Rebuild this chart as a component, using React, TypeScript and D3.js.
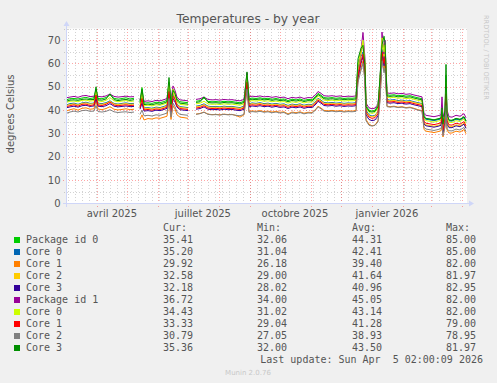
import React from 'react';
import * as d3 from 'd3';

const W = 497;
const H = 383;
const START = Date.UTC(2025, 2, 1, 2, 0, 0);
const END = Date.UTC(2026, 3, 5, 2, 0, 0);

// days since START for each sample (null values create gaps)
const dayOffsets = [
  0, 4, 8, 12, 16, 20, 24, 28, 30, 32, 36, 40, 44, 48, 52, 56, 60, 64, 68, 70,
  74, 76, 78, 82, 86, 90, 94, 98, 101, 103, 105, 107, 109, 111, 114, 118, 122, 124,
  130, 134, 138, 142, 146, 150, 154, 158, 162, 166, 170, 174, 178,
  181,
  183, 186, 190, 194, 198, 202, 206, 210, 214, 218, 222, 226, 230, 234, 238, 242, 246, 250, 252, 255, 258, 262, 266, 270, 274, 278, 282, 286, 290,
  292, 295, 297, 299, 300, 303, 306, 309, 312, 314, 316, 318, 319,
  321, 324, 328, 332, 336, 340, 344, 348, 352, 356,
  358, 360, 364, 368, 372, 375, 376, 377, 379, 380, 381, 383, 386, 390, 394, 398, 400,
];

const pkg0 = [
  44.4, 44.9, 45.0, 44.8, 45.2, 45.5, 45.0, 45.3, 49.0, 45.0, 44.9, 45.4, 46.6, 45.1, 44.7, 45.0, 45.3, 44.8, 45.1, null,
  43.8, 49.7, 43.0, 43.2, 42.9, 43.4, 43.2, 43.7, 44.2, 52.0, 43.0, 49.0, 47.5, 44.7, 43.6, 43.4, 43.2, null,
  43.8, 44.1, 45.2, 43.8, 43.6, 43.7, 43.5, 43.8, 43.6, 43.7, 43.4, 43.2, 43.8,
  55.5,
  44.8, 45.2, 45.0, 45.3, 44.9, 45.1, 44.7, 45.0, 44.6, 44.8, 44.1, 44.7, 44.4, 44.8, 44.2, 44.6, 44.5, 46.0, 47.2, 46.4, 45.4, 45.2, 45.4, 45.1, 45.3, 45.0, 45.2, 45.1, 45.3,
  60, 65, 68, 60, 42, 40, 39.6, 40, 42, 53, 69, 66, 68,
  46.6, 46.4, 46.6, 46.2, 46.4, 46.0, 46.2, 45.7, 45.3, 44.9,
  37.2, 36.5, 36.2, 35.9, 36.3, 36.7, 40.0, 34.0, 39.0, 55.0, 38.0, 35.5, 35.7, 36.5, 36.1, 37.2, 35.4,
];
const core0a = [
  42.2, 42.8, 43.0, 42.5, 43.1, 43.4, 42.9, 43.0, 46.5, 43.0, 42.8, 43.2, 44.0, 42.9, 42.6, 42.9, 43.1, 42.8, 42.9, null,
  41.7, 45.0, 40.9, 41.1, 40.8, 41.3, 41.1, 41.6, 42.1, 49.0, 40.5, 47.0, 45.0, 42.6, 41.5, 41.3, 41.1, null,
  41.7, 42.0, 42.7, 41.7, 41.5, 41.6, 41.4, 41.7, 41.5, 41.6, 41.3, 41.1, 41.7,
  53,
  42.7, 43.1, 42.9, 43.2, 42.8, 43.0, 42.6, 42.9, 42.5, 42.7, 42.0, 42.6, 42.3, 42.7, 42.1, 42.5, 42.4, 43.9, 45.1, 44.3, 43.3, 43.1, 43.3, 43.0, 43.2, 42.9, 43.1, 43.0, 43.2,
  56, 63, 65, 57, 40, 38, 37.5, 37.8, 39.5, 49, 66, 61, 64,
  44.5, 44.3, 44.5, 44.1, 44.3, 43.9, 44.1, 43.6, 43.2, 42.8,
  36.8, 36.1, 35.8, 35.5, 35.9, 36.3, 39.0, 33.5, 38.0, 50.0, 37.0, 35.4, 35.3, 36.1, 35.7, 36.8, 35.2,
];
const core1a = [
  39.6, 40.2, 40.6, 40.0, 40.8, 41.0, 40.4, 40.6, 44.0, 40.5, 40.2, 40.7, 41.5, 40.4, 40.1, 40.3, 40.6, 40.2, 40.4, null,
  36.0, 38.0, 35.8, 36.4, 36.2, 36.7, 36.5, 37.0, 37.4, 44.0, 36.0, 42.0, 40.5, 38.0, 37.0, 36.8, 36.5, null,
  38.3, 38.6, 39.2, 38.3, 38.1, 38.2, 38.0, 38.3, 38.1, 38.2, 37.7, 37.0, 38.0,
  49,
  39.3, 39.7, 39.5, 39.8, 39.4, 39.6, 39.2, 39.5, 39.1, 39.3, 38.4, 39.2, 38.9, 39.3, 38.7, 39.1, 39.0, 40.5, 41.7, 40.9, 39.9, 39.7, 39.9, 39.6, 39.8, 39.5, 39.7, 39.6, 39.8,
  53, 58, 61, 53, 36, 34, 33.3, 33.6, 35.5, 45, 62, 57, 60,
  41.7, 41.5, 41.7, 41.3, 41.5, 41.1, 41.3, 40.8, 40.2, 39.8,
  31.7, 31.0, 30.7, 30.4, 30.8, 31.2, 33.0, 28.5, 33.0, 42.0, 31.5, 30.2, 30.2, 31.0, 30.6, 31.7, 29.9,
];
const core2a = [
  42.0, 42.4, 42.7, 42.2, 42.9, 43.1, 42.6, 42.8, 46.0, 42.7, 42.5, 42.9, 43.8, 42.7, 42.4, 42.6, 42.8, 42.5, 42.6, null,
  41.4, 46.0, 40.6, 40.8, 40.5, 41.0, 40.8, 41.3, 41.8, 50.0, 40.0, 47.5, 45.5, 42.3, 41.2, 41.0, 40.8, null,
  41.4, 41.7, 42.4, 41.4, 41.2, 41.3, 41.1, 41.4, 41.2, 41.3, 41.0, 40.8, 41.4,
  54,
  42.4, 42.8, 42.6, 42.9, 42.5, 42.7, 42.3, 42.6, 42.2, 42.4, 41.7, 42.3, 42.0, 42.4, 41.8, 42.2, 42.1, 43.6, 44.8, 44.0, 43.0, 42.8, 43.0, 42.7, 42.9, 42.6, 42.8, 42.7, 42.9,
  57, 64, 69, 58, 39.5, 37.5, 37.2, 37.5, 39.5, 50, 70, 63, 67,
  44.2, 44.0, 44.2, 43.8, 44.0, 43.6, 43.8, 43.3, 42.9, 42.5,
  34.4, 33.7, 33.4, 33.1, 33.5, 33.9, 37.0, 31.0, 36.0, 48.0, 35.0, 33.0, 32.9, 33.7, 33.3, 34.4, 32.6,
];
const core3a = [
  41.0, 41.4, 41.7, 41.3, 41.9, 42.1, 41.6, 41.8, 45.0, 41.7, 41.5, 41.9, 42.8, 41.7, 41.4, 41.6, 41.8, 41.5, 41.6, null,
  40.4, 43.0, 39.6, 39.8, 39.5, 40.0, 39.8, 40.3, 40.8, 47.0, 39.0, 45.0, 43.5, 41.3, 40.2, 40.0, 39.8, null,
  40.4, 40.7, 41.4, 40.4, 40.2, 40.3, 40.1, 40.4, 40.2, 40.3, 40.0, 39.8, 40.4,
  51,
  41.4, 41.8, 41.6, 41.9, 41.5, 41.7, 41.3, 41.6, 41.2, 41.4, 40.7, 41.3, 41.0, 41.4, 40.8, 41.2, 41.1, 42.6, 43.8, 43.0, 42.0, 41.8, 42.0, 41.7, 41.9, 41.6, 41.8, 41.7, 41.9,
  54, 60, 63, 55, 38, 36, 35.5, 35.8, 37.5, 47, 64, 59, 62,
  43.2, 43.0, 43.2, 42.8, 43.0, 42.6, 42.8, 42.3, 41.9, 41.5,
  34.0, 33.3, 33.0, 32.7, 33.1, 33.5, 37.0, 30.5, 35.0, 46.0, 34.0, 32.5, 32.5, 33.3, 32.9, 34.0, 32.2,
];
const pkg1 = [
  45.3, 45.6, 45.9, 45.5, 46.1, 46.3, 45.8, 46.0, 47.6, 45.9, 45.7, 46.1, 46.9, 45.9, 45.6, 45.8, 46.0, 45.7, 45.8, null,
  44.6, 47.5, 43.8, 44.0, 43.7, 44.2, 44.0, 44.5, 45.0, 51.0, 44.5, 50.4, 48.5, 45.5, 44.4, 44.2, 44.0, null,
  44.6, 44.9, 45.6, 44.6, 44.4, 44.5, 44.3, 44.6, 44.4, 44.5, 44.2, 44.0, 44.6,
  56.0,
  45.6, 46.0, 45.8, 46.1, 45.7, 45.9, 45.5, 45.8, 45.4, 45.6, 44.9, 45.5, 45.2, 45.6, 45.0, 45.4, 45.3, 46.8, 48.0, 47.2, 46.2, 46.0, 46.2, 45.9, 46.1, 45.8, 46.0, 45.9, 46.1,
  58.0, 66.0, 73.3, 62.0, 43.0, 41.0, 40.6, 40.9, 42.5, 52.0, 73.5, 64.0, 70.0,
  47.4, 47.2, 47.4, 47.0, 47.2, 46.8, 47.0, 46.5, 46.1, 45.7,
  38.5, 37.8, 37.5, 37.2, 37.6, 38.0, 45.7, 37.0, 40.0, 50.0, 40.0, 37.2, 37.0, 37.8, 37.4, 38.5, 36.7,
];
const core0b = [
  43.3, 43.8, 43.9, 43.6, 44.2, 44.3, 43.9, 44.1, 48.0, 44.0, 43.7, 44.2, 45.4, 44.0, 43.6, 43.9, 44.1, 43.8, 43.9, null,
  42.7, 47.5, 41.9, 42.1, 41.8, 42.3, 42.1, 42.6, 43.1, 52.0, 42.0, 49.0, 47.0, 43.6, 42.5, 42.3, 42.1, null,
  42.7, 43.0, 43.8, 42.7, 42.5, 42.6, 42.4, 42.7, 42.5, 42.6, 42.3, 42.1, 42.7,
  55,
  43.7, 44.1, 43.9, 44.2, 43.8, 44.0, 43.6, 43.9, 43.5, 43.7, 43.0, 43.6, 43.3, 43.7, 43.1, 43.5, 43.4, 44.9, 46.1, 45.3, 44.3, 44.1, 44.3, 44.0, 44.2, 43.9, 44.1, 44.0, 44.2,
  59, 66, 70, 60, 41, 39, 38.6, 39, 41, 52, 71, 65, 68,
  45.5, 45.3, 45.5, 45.1, 45.3, 44.9, 45.1, 44.6, 44.2, 43.8,
  36.2, 35.5, 35.2, 34.9, 35.3, 35.7, 40.0, 33.0, 38.0, 52.0, 37.0, 34.8, 34.7, 35.5, 35.1, 36.2, 34.4,
];
const core1b = [
  41.5, 41.9, 42.3, 41.7, 42.5, 42.6, 42.0, 42.3, 46.5, 42.2, 42.0, 42.5, 43.5, 42.2, 41.9, 42.1, 42.3, 42.0, 42.1, null,
  40.9, 45.0, 40.1, 40.3, 40.0, 40.5, 40.3, 40.8, 41.3, 48.0, 39.5, 46.0, 44.5, 41.8, 40.7, 40.5, 40.3, null,
  40.9, 41.2, 41.9, 40.9, 40.7, 40.8, 40.6, 40.9, 40.7, 40.8, 40.5, 40.3, 40.9,
  52,
  41.9, 42.3, 42.1, 42.4, 42.0, 42.2, 41.8, 42.1, 41.7, 41.9, 41.2, 41.8, 41.5, 41.9, 41.3, 41.7, 41.6, 43.1, 44.3, 43.5, 42.5, 42.3, 42.5, 42.2, 42.4, 42.1, 42.3, 42.2, 42.4,
  55, 61, 64, 56, 39, 37, 36.5, 36.8, 38.5, 48, 65, 60, 63,
  43.7, 43.5, 43.7, 43.3, 43.5, 43.1, 43.3, 42.8, 42.4, 42.0,
  35.1, 34.4, 34.1, 33.8, 34.2, 34.6, 38.0, 31.5, 36.5, 47.0, 35.5, 33.7, 33.6, 34.4, 34.0, 35.1, 33.3,
];
const core2b = [
  38.6, 39.2, 39.6, 39.2, 39.8, 40.0, 39.5, 39.6, 42.0, 39.4, 39.2, 39.5, 40.2, 39.3, 39.0, 39.2, 39.3, 39.0, 39.2, null,
  38.2, 40.0, 37.6, 37.8, 37.5, 38.0, 37.8, 38.3, 38.8, 45.0, 37.0, 43.0, 41.5, 39.3, 38.2, 38.0, 37.8, null,
  38.2, 38.5, 39.1, 38.2, 38.0, 38.1, 37.9, 38.2, 38.0, 38.1, 37.8, 37.6, 38.2,
  49,
  39.0, 39.4, 39.2, 39.5, 39.1, 39.3, 38.9, 39.2, 38.8, 39.0, 38.1, 38.9, 38.6, 39.0, 38.4, 38.8, 38.7, 40.2, 41.4, 40.6, 39.6, 39.4, 39.6, 39.3, 39.5, 39.2, 39.4, 39.3, 39.5,
  52, 57, 60, 52, 35.5, 33.5, 33.2, 33.5, 35, 44, 61, 56, 58,
  41.5, 41.3, 41.5, 41.1, 41.3, 40.9, 41.1, 40.6, 40.0, 39.6,
  32.6, 31.9, 31.6, 31.3, 31.7, 32.1, 34.0, 29.0, 33.0, 42.0, 32.0, 31.2, 31.1, 31.9, 31.5, 32.6, 30.8,
];
const core3b = [
  43.8, 44.3, 44.4, 44.2, 44.6, 44.8, 44.5, 44.6, 50.0, 44.4, 44.3, 44.8, 47.0, 44.5, 44.1, 44.4, 44.6, 44.2, 44.5, null,
  43.2, 49.0, 42.4, 42.6, 42.3, 42.8, 42.6, 43.1, 43.6, 54.0, 42.5, 48.5, 47.0, 44.1, 43.0, 42.8, 42.6, null,
  43.3, 43.6, 45.7, 43.3, 43.1, 43.2, 43.0, 43.3, 43.1, 43.2, 42.9, 42.7, 43.3,
  56.4,
  44.3, 44.7, 44.5, 44.8, 44.4, 44.6, 44.2, 44.5, 44.1, 44.3, 43.6, 44.2, 43.9, 44.3, 43.7, 44.1, 44.0, 45.5, 46.7, 45.9, 44.9, 44.7, 44.9, 44.6, 44.8, 44.5, 44.7, 44.6, 44.8,
  62, 66.5, 67.8, 59, 41.5, 39.5, 39.2, 39.5, 41.5, 54, 68, 71.7, 69,
  46.1, 45.9, 46.1, 45.7, 45.9, 45.5, 45.7, 45.2, 44.8, 44.4,
  37.1, 36.4, 36.1, 35.8, 36.2, 36.6, 41.0, 34.0, 40.0, 59.6, 38.5, 35.8, 35.6, 36.4, 36.0, 37.1, 35.4,
];

const seriesNames = ['Package id 0', 'Core 0', 'Core 1', 'Core 2', 'Core 3', 'Package id 1', 'Core 0', 'Core 1', 'Core 2', 'Core 3'];
const seriesColors = ['#00CC00', '#0066B3', '#FF8000', '#FFCC00', '#330099', '#990099', '#CCFF00', '#FF0000', '#808080', '#008F00'];
const seriesValues = [pkg0, core0a, core1a, core2a, core3a, pkg1, core0b, core1b, core2b, core3b];
const curValues = ['35.41', '35.20', '29.92', '32.58', '32.18', '36.72', '34.43', '33.33', '30.79', '35.36'];
const minValues = ['32.06', '31.04', '26.18', '29.00', '28.02', '34.00', '31.02', '29.04', '27.05', '32.00'];
const avgValues = ['44.31', '42.41', '39.40', '41.64', '40.96', '45.05', '43.14', '41.28', '38.93', '43.50'];
const maxValues = ['85.00', '85.00', '82.00', '81.97', '82.95', '82.00', '82.00', '79.00', '78.95', '81.97'];

const yTicks = [0, 10, 20, 30, 40, 50, 60, 70];
const yMinorTicks = [5, 15, 25, 35, 45, 55, 65, 75];
const xLabelMonths = [Date.UTC(2025, 3, 1), Date.UTC(2025, 6, 1), Date.UTC(2025, 9, 1), Date.UTC(2026, 0, 1)];
const xLabelTexts = ['avril 2025', 'juillet 2025', 'octobre 2025', 'janvier 2026'];

const FONT = '"DejaVu Sans", sans-serif';
const MONO = '"DejaVu Sans Mono", monospace';

export default function App() {
  const left = 66;
  const right = 466;
  const bottom = 203.5;
  const top = 28.5;
  const x = d3.scaleUtc().domain([new Date(START), new Date(END)]).range([left, right]);
  const y = d3.scaleLinear().domain([0, 75]).range([bottom, top]);
  const dates = dayOffsets.map((d) => d3.utcDay.offset(new Date(START), d));

  const months = d3.utcMonth.range(new Date(START), new Date(END));
  const weeks = d3.utcMonday.range(new Date(START), new Date(END));

  const line = d3
    .line<number>()
    .defined((v) => v !== null && v !== undefined)
    .x((_, i) => x(dates[i]))
    .y((v) => y(v as number));

  const legendRowY = (i: number) => 243 + 12 * i;
  const colX = [163, 257, 352, 446];
  const textColor = '#555';

  return (
    <svg
      width={W}
      height={H}
      viewBox={`0 0 ${W} ${H}`}
      style={{ position: 'absolute', left: 0, top: 0, display: 'block' }}
    >
      <rect x={0} y={0} width={W} height={H} fill="#F0F0F0" />
      <rect x={left} y={top} width={right - left + 1} height={bottom - top} fill="#FFFFFF" />

      {/* minor vertical grid (weekly) */}
      <g shapeRendering="crispEdges">
        {weeks.map((w, i) => (
          <line
            key={'w' + i}
            x1={Math.round(x(w)) + 0.5}
            x2={Math.round(x(w)) + 0.5}
            y1={top}
            y2={bottom + 2}
            stroke="rgba(128,128,128,0.35)"
            strokeDasharray="1,2"
          />
        ))}
        {yMinorTicks.map((t) => (
          <line
            key={'hm' + t}
            x1={left - 2}
            x2={right + 1}
            y1={Math.round(y(t)) + 0.5}
            y2={Math.round(y(t)) + 0.5}
            stroke="rgba(128,128,128,0.35)"
            strokeDasharray="1,2"
          />
        ))}
        {months.map((m, i) => (
          <line
            key={'m' + i}
            x1={Math.round(x(m)) + 0.5}
            x2={Math.round(x(m)) + 0.5}
            y1={top}
            y2={bottom + 3}
            stroke="rgba(255,0,0,0.35)"
            strokeDasharray="1,2"
          />
        ))}
        {yTicks
          .filter((t) => t > 0)
          .map((t) => (
            <line
              key={'hM' + t}
              x1={left - 3}
              x2={right + 1}
              y1={Math.round(y(t)) + 0.5}
              y2={Math.round(y(t)) + 0.5}
              stroke="rgba(255,0,0,0.35)"
              strokeDasharray="1,2"
            />
          ))}
      </g>

      {/* data */}
      <g fill="none" strokeWidth={1}>
        {seriesValues.map((vals, i) => (
          <path key={'s' + i} d={line(vals as number[]) || ''} stroke={seriesColors[i]} />
        ))}
      </g>

      {/* axes */}
      <g shapeRendering="crispEdges">
        <line x1={left - 3} x2={470} y1={bottom} y2={bottom} stroke="#CFD6F8" />
        <line x1={left + 0.5} x2={left + 0.5} y1={bottom + 3} y2={25} stroke="#CFD6F8" />
      </g>
      <polygon points={`469,${bottom - 3} 474,${bottom} 469,${bottom + 3}`} fill="#CFD6F8" />
      <polygon points={`${left - 2.5},26 ${left + 3.5},26 ${left + 0.5},21`} fill="#CFD6F8" />

      {/* y tick labels */}
      {yTicks.map((t) => (
        <text
          key={'yl' + t}
          x={60.5}
          y={y(t) + 3.5}
          textAnchor="end"
          fontFamily={FONT}
          fontSize={10}
          fill={textColor}
        >
          {t}
        </text>
      ))}

      {/* x labels */}
      {xLabelMonths.map((m, i) => (
        <text
          key={'xl' + i}
          x={x(d3.utcDay.offset(new Date(m), 15))}
          y={216.5}
          textAnchor="middle"
          fontFamily={FONT}
          fontSize={10}
          fill={textColor}
        >
          {xLabelTexts[i]}
        </text>
      ))}

      {/* title */}
      <text x={248} y={22.5} textAnchor="middle" fontFamily={FONT} fontSize={12.3} fill={textColor}>
        Temperatures - by year
      </text>

      {/* y axis title */}
      <text
        transform="translate(13.5,114) rotate(-90)"
        textAnchor="middle"
        fontFamily={FONT}
        fontSize={10}
        fill={textColor}
      >
        degrees Celsius
      </text>

      {/* watermark */}
      <text
        transform="translate(484,15) rotate(90)"
        textAnchor="start"
        fontFamily={FONT}
        fontSize={6.6}
        fill="#C8C8C8"
      >
        RRDTOOL / TOBI OETIKER
      </text>

      {/* legend */}
      <g fontFamily={MONO} fontSize={10} fill={textColor} style={{ whiteSpace: 'pre' }}>
        <text x={colX[0]} y={231}>Cur:</text>
        <text x={colX[1]} y={231}>Min:</text>
        <text x={colX[2]} y={231}>Avg:</text>
        <text x={colX[3]} y={231}>Max:</text>
        {seriesNames.map((name, i) => (
          <g key={'lg' + i}>
            <rect x={14} y={legendRowY(i) - 6} width={6} height={6} fill={seriesColors[i]} />
            <text x={26} y={legendRowY(i)}>{name}</text>
            <text x={colX[0]} y={legendRowY(i)}>{curValues[i]}</text>
            <text x={colX[1]} y={legendRowY(i)}>{minValues[i]}</text>
            <text x={colX[2]} y={legendRowY(i)}>{avgValues[i]}</text>
            <text x={colX[3]} y={legendRowY(i)}>{maxValues[i]}</text>
          </g>
        ))}
        <text x={483} y={363} textAnchor="end" xmlSpace="preserve">
          {'Last update: Sun Apr  5 02:00:09 2026'}
        </text>
      </g>
      <text x={248} y={375} textAnchor="middle" fontFamily={FONT} fontSize={7} fill="#C8C8C8">
        Munin 2.0.76
      </text>
    </svg>
  );
}
